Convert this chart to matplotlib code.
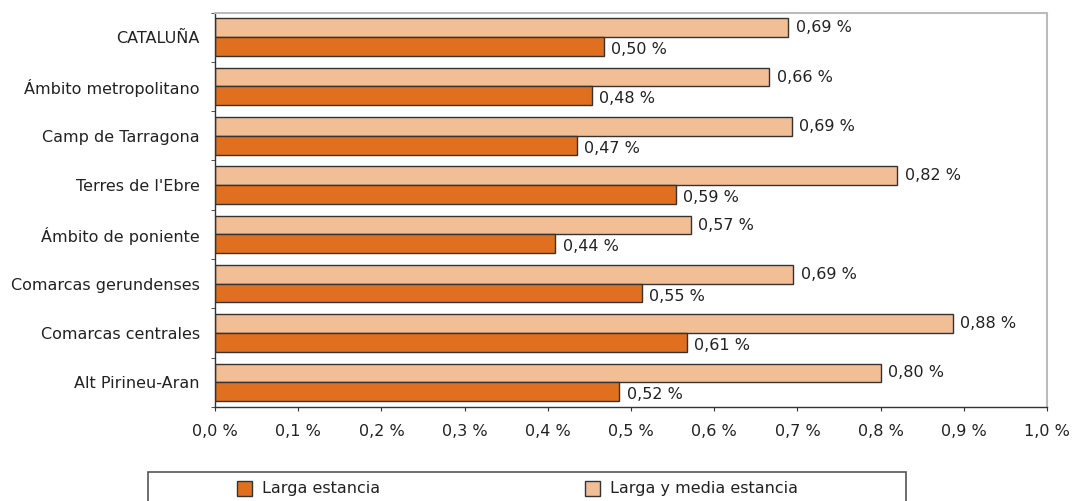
import numpy as np
import matplotlib.pyplot as plt
from matplotlib.patches import Rectangle

# data
regiones = ["CATALUÑA", "Ámbito metropolitano", "Camp de Tarragona", "Terres de l'Ebre",
            "Ámbito de poniente", "Comarcas gerundenses", "Comarcas centrales", "Alt Pirineu-Aran"]
larga_media = [0.689, 0.666, 0.693, 0.82, 0.572, 0.695, 0.887, 0.80]
larga = [0.467, 0.453, 0.435, 0.554, 0.409, 0.513, 0.567, 0.486]
etiq_larga_media = ["0,69 %", "0,66 %", "0,69 %", "0,82 %", "0,57 %", "0,69 %", "0,88 %", "0,80 %"]
etiq_larga = ["0,50 %", "0,48 %", "0,47 %", "0,59 %", "0,44 %", "0,55 %", "0,61 %", "0,52 %"]
xticks = [0, 0.1, 0.2, 0.3, 0.4, 0.5, 0.6, 0.7, 0.8, 0.9, 1.0]

c_dark = "#E07020"
c_light = "#F2BE96"
fs = 11.5

fig = plt.figure(figsize=(10.72, 5.01), dpi=100)
ax = fig.add_axes([215/1072, 1-407/501, 832/1072, 394.5/501])

y = np.arange(len(regiones))
h = 0.38
ax.barh(y - h/2, larga_media, height=h, color=c_light, edgecolor="#333333", linewidth=1)
ax.barh(y + h/2, larga, height=h, color=c_dark, edgecolor="#333333", linewidth=1)

for i in range(len(regiones)):
    ax.text(larga_media[i] + 0.009, y[i] - h/2, etiq_larga_media[i], va="center", ha="left",
            fontsize=fs, color="#222222")
    ax.text(larga[i] + 0.009, y[i] + h/2 + 0.06, etiq_larga[i], va="center", ha="left",
            fontsize=fs, color="#222222")

ax.set_xlim(0, 1.0)
ax.set_ylim(len(regiones) - 0.5, -0.5)
ax.set_xticks(xticks)
ax.set_xticklabels([("%.1f %%" % v).replace(".", ",") for v in xticks], fontsize=fs, color="#222222")
ax.set_yticks(y)
ax.set_yticklabels(regiones, fontsize=fs, color="#222222")
ax.set_yticks(np.arange(-0.5, len(regiones)), minor=True)
ax.tick_params(axis="y", which="major", length=0, pad=11)
ax.tick_params(axis="y", which="minor", length=3, color="#333333")
ax.tick_params(axis="x", length=3, color="#333333", pad=9)

for s in ["top", "right"]:
    ax.spines[s].set_color("#bbbbbb")
    ax.spines[s].set_linewidth(1.5)
for s in ["left", "bottom"]:
    ax.spines[s].set_color("#333333")
    ax.spines[s].set_linewidth(1)

# legend box
W, H = 1072, 501
fig.patches.append(Rectangle((148/W, -0.05), (906-148)/W, (H-472)/H + 0.05, transform=fig.transFigure,
                             facecolor="white", edgecolor="#555555", linewidth=1.2, clip_on=False))
fig.patches.append(Rectangle((237/W, 1-496/H), 15/W, 15/H, transform=fig.transFigure,
                             facecolor=c_dark, edgecolor="#333333", linewidth=1))
fig.patches.append(Rectangle((585/W, 1-496/H), 15/W, 15/H, transform=fig.transFigure,
                             facecolor=c_light, edgecolor="#333333", linewidth=1))
fig.text(262/W, 1-488.5/H, "Larga estancia", fontsize=fs, va="center", ha="left", color="#222222")
fig.text(610/W, 1-488.5/H, "Larga y media estancia", fontsize=fs, va="center", ha="left", color="#222222")

fig.savefig("out.png", dpi=100)
